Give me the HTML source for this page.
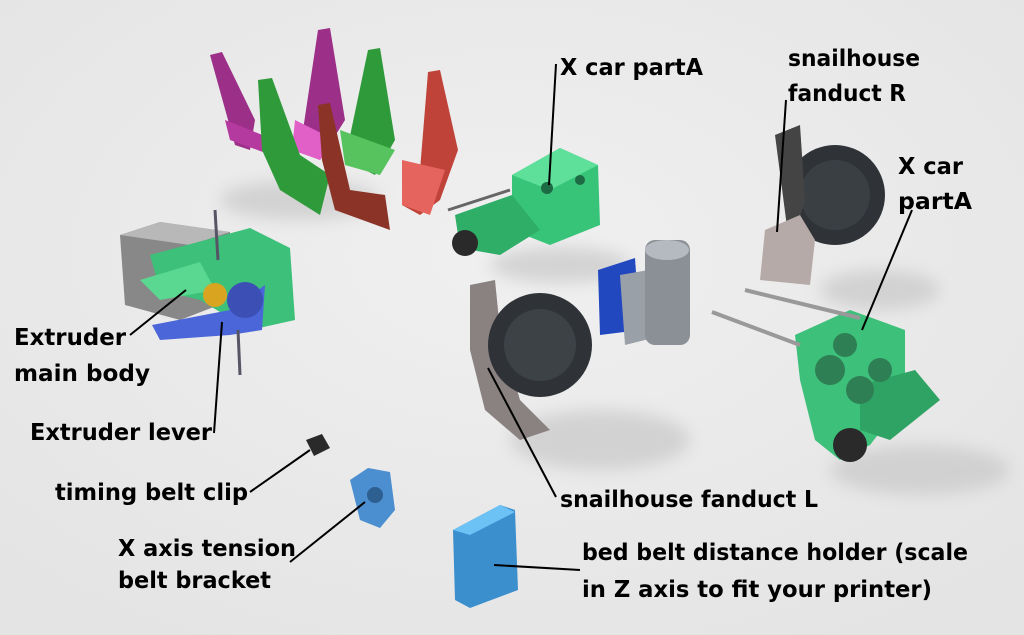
<!DOCTYPE html>
<html><head><meta charset="utf-8"><style>
html,body{margin:0;padding:0;background:#ececec}
svg{display:block}
text{font-family:"DejaVu Sans","Liberation Sans",sans-serif;font-weight:bold;font-size:23px;fill:#000}
</style></head><body>
<svg width="1024" height="635" viewBox="0 0 1024 635" xmlns="http://www.w3.org/2000/svg">
<defs>
<radialGradient id="bg" cx="50%" cy="40%" r="70%"><stop offset="0" stop-color="#f0f0f0"/><stop offset="1" stop-color="#e4e4e4"/></radialGradient>
<filter id="bl"><feGaussianBlur stdDeviation="8"/></filter>
</defs>
<rect width="1024" height="635" fill="url(#bg)"/>
<g fill="#c8c8c8" opacity="0.7" filter="url(#bl)">
<ellipse cx="300" cy="200" rx="80" ry="20"/>
<ellipse cx="560" cy="265" rx="70" ry="18"/>
<ellipse cx="920" cy="470" rx="90" ry="25"/>
<ellipse cx="600" cy="440" rx="90" ry="30"/>
<ellipse cx="880" cy="290" rx="60" ry="20"/>
</g>
<polygon points="210,55 222,52 255,120 250,150 235,145" fill="#9c2f87"/>
<polygon points="225,120 300,150 285,160 230,140" fill="#b53aa0"/>
<polygon points="318,30 330,28 345,120 320,160 300,150" fill="#9c2f87"/>
<polygon points="295,120 335,140 320,160 292,150" fill="#e060c8"/>
<polygon points="258,80 272,78 300,155 330,175 320,215 280,190 262,150" fill="#2f9a3a"/>
<polygon points="368,50 380,48 395,140 375,175 345,160" fill="#2f9a3a"/>
<polygon points="340,130 395,150 380,175 345,165" fill="#56c35e"/>
<polygon points="318,105 330,103 350,190 385,195 390,230 335,210 322,160" fill="#8a3326"/>
<polygon points="428,72 440,70 458,150 440,200 420,215 402,205 420,170" fill="#c0433a"/>
<polygon points="402,160 445,170 430,215 402,205" fill="#e5655e"/>
<polygon points="512,175 560,148 598,165 600,225 550,245 512,230" fill="#37c479"/>
<polygon points="512,175 560,148 598,165 550,190" fill="#5ee09a"/>
<polygon points="455,215 512,195 540,230 500,255 460,248" fill="#2fae68"/>
<circle cx="465" cy="243" r="13" fill="#2a2a2a"/>
<circle cx="547" cy="188" r="6" fill="#1d6b44"/><circle cx="580" cy="180" r="5" fill="#1d6b44"/>
<line x1="448" y1="210" x2="510" y2="190" stroke="#666" stroke-width="3"/>
<polygon points="120,235 160,222 230,232 232,300 180,320 125,305" fill="#888"/>
<polygon points="120,235 160,222 230,232 190,245" fill="#b8b8b8"/>
<polygon points="150,255 250,228 290,248 295,320 250,330 200,300 160,290" fill="#3cc07a"/>
<polygon points="140,280 200,262 215,290 160,300" fill="#5ad891"/>
<polygon points="152,325 230,310 265,285 262,330 230,335 160,340" fill="#4a66d8"/>
<circle cx="245" cy="300" r="18" fill="#3b4fb5"/>
<circle cx="215" cy="295" r="12" fill="#d9a520"/>
<line x1="215" y1="210" x2="218" y2="260" stroke="#556" stroke-width="3"/>
<line x1="238" y1="330" x2="240" y2="375" stroke="#556" stroke-width="3"/>
<circle cx="835" cy="195" r="50" fill="#2f3338"/>
<circle cx="835" cy="195" r="35" fill="#3a3f44"/>
<polygon points="775,135 800,125 805,200 790,250" fill="#444"/>
<polygon points="765,230 800,215 815,240 810,285 760,280" fill="#b5aaa7"/>
<polygon points="598,270 635,258 640,330 600,335" fill="#2248c0"/>
<polygon points="620,275 660,268 665,335 625,345" fill="#9aa0a8"/>
<rect x="645" y="240" width="45" height="105" rx="10" fill="#8b9096"/>
<ellipse cx="667" cy="250" rx="22" ry="10" fill="#b5bac0"/>
<polygon points="795,335 850,310 905,330 905,400 870,445 840,460 815,440 800,380" fill="#3cc07a"/>
<polygon points="860,385 915,370 940,400 890,440 860,430" fill="#2ea363"/>
<circle cx="830" cy="370" r="15" fill="#2f7f55"/><circle cx="860" cy="390" r="14" fill="#2f7f55"/><circle cx="845" cy="345" r="12" fill="#2f7f55"/><circle cx="880" cy="370" r="12" fill="#2f7f55"/>
<circle cx="850" cy="445" r="17" fill="#2a2a2a"/>
<line x1="745" y1="290" x2="860" y2="318" stroke="#999" stroke-width="4"/>
<line x1="712" y1="312" x2="800" y2="345" stroke="#999" stroke-width="4"/>
<polygon points="470,285 495,280 500,330 520,400 550,430 520,440 485,410 470,350" fill="#8a8281"/>
<circle cx="540" cy="345" r="52" fill="#2f3338"/>
<circle cx="540" cy="345" r="36" fill="#3d4247"/>
<polygon points="306,440 322,434 330,448 314,456" fill="#2a2a2a"/>
<polygon points="350,480 368,468 390,472 395,510 380,528 360,520" fill="#4b8fd0"/>
<circle cx="375" cy="495" r="8" fill="#2d5f90"/>
<polygon points="453,530 500,505 515,510 518,590 470,608 455,600" fill="#3a8fcc"/>
<polygon points="453,530 500,505 515,512 470,535" fill="#6cc2f5"/>
<g stroke="#000" stroke-width="2" fill="none">
<line x1="556" y1="64" x2="549" y2="185"/>
<line x1="786" y1="100" x2="777" y2="232"/>
<line x1="912" y1="210" x2="862" y2="330"/>
<line x1="130" y1="335" x2="186" y2="290"/>
<line x1="214" y1="433" x2="222" y2="322"/>
<line x1="250" y1="492" x2="310" y2="450"/>
<line x1="290" y1="562" x2="365" y2="502"/>
<line x1="556" y1="497" x2="488" y2="368"/>
<line x1="494" y1="565" x2="580" y2="570"/>
</g>
<g>
<text x="560" y="75" textLength="143" lengthAdjust="spacingAndGlyphs">X car partA</text>
<text x="788" y="66" textLength="132" lengthAdjust="spacingAndGlyphs">snailhouse</text>
<text x="788" y="101" textLength="118" lengthAdjust="spacingAndGlyphs">fanduct R</text>
<text x="898" y="174" textLength="65" lengthAdjust="spacingAndGlyphs">X car</text>
<text x="898" y="209" textLength="74" lengthAdjust="spacingAndGlyphs">partA</text>
<text x="14" y="345" textLength="112" lengthAdjust="spacingAndGlyphs">Extruder</text>
<text x="14" y="381" textLength="136" lengthAdjust="spacingAndGlyphs">main body</text>
<text x="30" y="440" textLength="182" lengthAdjust="spacingAndGlyphs">Extruder lever</text>
<text x="55" y="500" textLength="193" lengthAdjust="spacingAndGlyphs">timing belt clip</text>
<text x="118" y="556" textLength="178" lengthAdjust="spacingAndGlyphs">X axis tension</text>
<text x="118" y="588" textLength="153" lengthAdjust="spacingAndGlyphs">belt bracket</text>
<text x="560" y="507" textLength="258" lengthAdjust="spacingAndGlyphs">snailhouse fanduct L</text>
<text x="582" y="560" textLength="386" lengthAdjust="spacingAndGlyphs">bed belt distance holder (scale</text>
<text x="582" y="597" textLength="350" lengthAdjust="spacingAndGlyphs">in Z axis to fit your printer)</text>
</g>
</svg>
</body></html>
